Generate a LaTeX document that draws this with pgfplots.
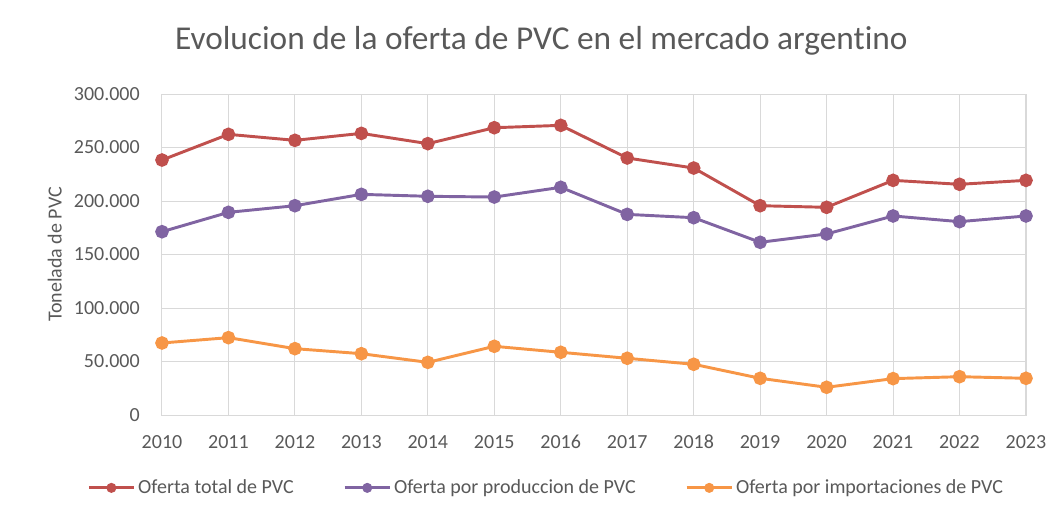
\documentclass[border=0pt]{standalone}
\usepackage{pgfplots}
\usepackage{fontspec}
\setmainfont{Carlito}[Ligatures=NoCommon]
\pgfplotsset{compat=1.18}
\definecolor{serred}{RGB}{192,80,77}
\definecolor{serpurple}{RGB}{128,100,162}
\definecolor{serorange}{RGB}{247,150,70}
\definecolor{txtgray}{RGB}{89,89,89}
\definecolor{gridgray}{RGB}{217,217,217}

\begin{document}
\begin{tikzpicture}
\useasboundingbox (-121.5pt,-77.25pt) rectangle (673.5pt,311.25pt);
\begin{axis}[
    scale only axis,
    width=648pt,
    height=240.75pt,
    at={(0,0)}, anchor=south west,
    xmin=2010, xmax=2023,
    ymin=0, ymax=300000,
    xtick={2010,...,2023},
    ytick={0,50000,...,300000},
    xticklabel style={/pgf/number format/.cd, fixed, 1000 sep={}, /tikz/.cd, inner sep=0pt, anchor=base, yshift=-24.75pt},
    yticklabel style={/pgf/number format/.cd, fixed, 1000 sep={.}, /tikz/.cd, inner sep=0pt, anchor=east, xshift=-16.5pt},
    /pgf/number format/assume math mode=true,
    scaled y ticks=false,
    tick label style={font=\fontsize{15}{18}\selectfont, color=txtgray},
    major tick length=0pt,
    grid=major,
    grid style={gridgray, line width=0.75pt},
    axis line style={gridgray, line width=0.75pt},
    title={Evolucion de la oferta de PVC en el mercado argentino},
    title style={font=\fontsize{25}{30}\selectfont, color=txtgray, at={(axis description cs:0.439,1.115)}, anchor=base},
    ylabel={Tonelada de PVC},
    ylabel style={font=\fontsize{15}{18}\selectfont, color=txtgray, at={(axis description cs:-0.124,0.5)}, anchor=center},
    legend style={at={(0.445,-0.227)}, anchor=center, draw=none, font=\fontsize{15}{18}\selectfont, text=txtgray,
      /tikz/every even column/.append style={column sep=35pt}},
    legend columns=3,
    legend image code/.code={\draw[#1, mark size=2.6pt, mark repeat=2, mark phase=2] plot coordinates {(0pt,0pt) (17pt,0pt) (34pt,0pt)};},
    every axis plot/.append style={line width=2.2pt, mark=*, mark size=4pt},
    clip=false,
]
\addplot[color=serred] coordinates {
 (2010,238300) (2011,262300) (2012,256700) (2013,263200) (2014,253600)
 (2015,268500) (2016,270700) (2017,240200) (2018,230800) (2019,195600)
 (2020,194100) (2021,219300) (2022,215600) (2023,219300)};
\addlegendentry{Oferta total de PVC}
\addplot[color=serpurple] coordinates {
 (2010,171300) (2011,189400) (2012,195600) (2013,206200) (2014,204400)
 (2015,203700) (2016,212800) (2017,187500) (2018,184400) (2019,161400)
 (2020,169200) (2021,186000) (2022,180700) (2023,186000)};
\addlegendentry{Oferta por produccion de PVC}
\addplot[color=serorange] coordinates {
 (2010,67300) (2011,72300) (2012,62000) (2013,57300) (2014,49200)
 (2015,64200) (2016,58600) (2017,53000) (2018,47400) (2019,34300)
 (2020,25900) (2021,34000) (2022,35800) (2023,34300)};
\addlegendentry{Oferta por importaciones de PVC}
\end{axis}
\end{tikzpicture}
\end{document}
